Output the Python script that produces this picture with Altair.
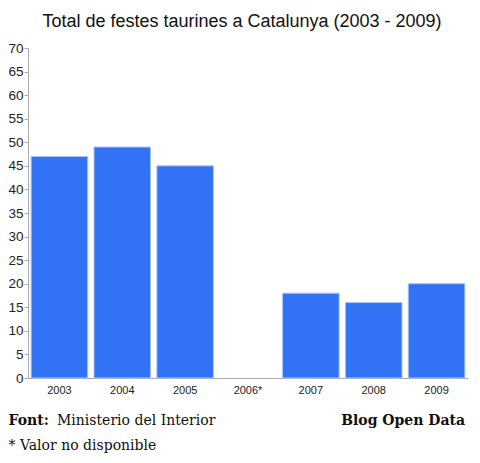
import altair as alt
import pandas as pd

years = ["2003", "2004", "2005", "2006*", "2007", "2008", "2009"]
values = [47, 49, 45, None, 18, 16, 20]

df = pd.DataFrame({"year": years, "value": values})

W, H = 440, 330

bars = alt.Chart(df).mark_bar(color="#3273f5", stroke="#a8c4fa", strokeWidth=1).encode(
    x=alt.X("year:N", sort=years, title=None,
            scale=alt.Scale(paddingInner=0.1, paddingOuter=0.05),
            axis=alt.Axis(labelAngle=0, ticks=False, domainColor="#aaaaaa",
                          labelFont="Liberation Sans", labelFontSize=11,
                          labelColor="#222222", labelPadding=6)),
    y=alt.Y("value:Q", title=None,
            scale=alt.Scale(domain=[0, 70]),
            axis=alt.Axis(values=list(range(0, 75, 5)), grid=False,
                          domainColor="#aaaaaa", tickColor="#aaaaaa", tickSize=4,
                          labelFont="Liberation Sans", labelFontSize=13.5,
                          labelColor="#222222", labelPadding=1)),
)

foot = pd.DataFrame({"t": [0]})

def txt(text, x, y, bold=False, align="left"):
    return alt.Chart(foot).mark_text(
        text=text, font="DejaVu Serif", fontSize=14,
        fontWeight="bold" if bold else "normal", align=align,
        baseline="alphabetic", color="#111111"
    ).encode(x=alt.value(x), y=alt.value(y))

footer = (
    txt("Font:", -19.5, 377, bold=True)
    + txt("Ministerio del Interior", 29, 377)
    + txt("Blog Open Data", 437, 377, bold=True, align="right")
    + txt("* Valor no disponible", -19.5, 402)
)

chart = (bars + footer).properties(
    width=W, height=H,
    title=alt.TitleParams("Total de festes taurines a Catalunya (2003 - 2009)",
                          font="Liberation Sans", fontSize=18, fontWeight="normal",
                          color="#111111", anchor="middle", offset=10, dx=-6),
    autosize=alt.AutoSizeParams(type="none"),
    padding={"left": 20, "top": 40, "right": 2, "bottom": 77},
).configure_view(stroke=None)

chart.save("out.html", embed_options={"renderer": "svg", "actions": False})
